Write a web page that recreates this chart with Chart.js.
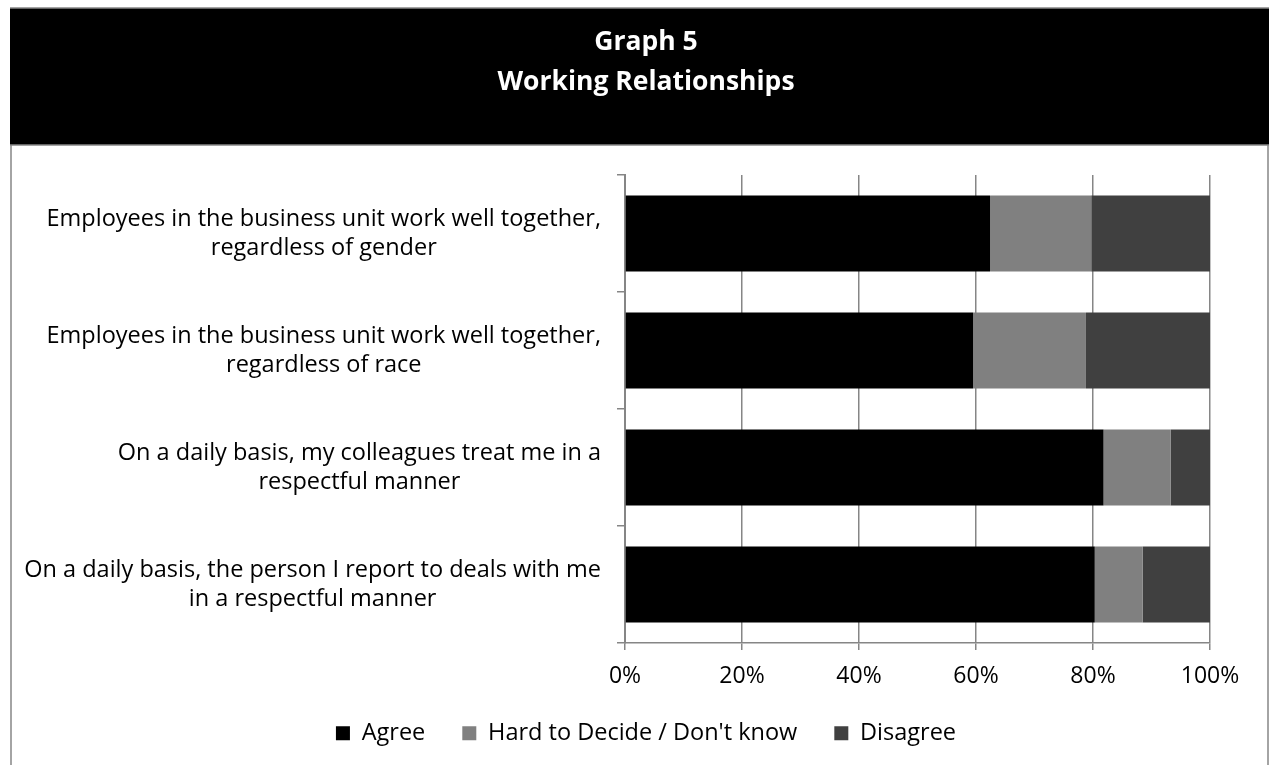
<!DOCTYPE html>
<html>
<head>
<meta charset="utf-8">
<script src="https://cdn.jsdelivr.net/npm/chart.js@4/dist/chart.umd.min.js"></script>
<style>
  html, body { margin: 0; padding: 0; background: #fff; }
  #wrap { width: 1269px; height: 765px; position: relative; }
</style>
</head>
<body>
<div id="wrap"><canvas id="c" width="1269" height="765"></canvas></div>
<script>
const titleLines = ['Graph 5', 'Working Relationships'];
const categories = [
  ['Employees in the business unit work well together,', 'regardless of gender'],
  ['Employees in the business unit work well together,', 'regardless of race'],
  ['On a daily basis, my colleagues treat me in a', 'respectful manner'],
  ['On a daily basis, the person I report to deals with me', 'in a respectful manner']
];
const seriesNames = ['Agree', 'Hard to Decide / Don\'t know', 'Disagree'];
const agree = [62.4, 59.5, 81.8, 80.3];
const hardToDecide = [17.3, 19.3, 11.5, 8.2];
const disagree = [20.3, 21.2, 6.7, 11.5];
const xTickLabels = ['0%', '20%', '40%', '60%', '80%', '100%'];

const FONT = '"Open Sans", "DejaVu Sans", sans-serif';
const GRID = '#868686';

const frame = {
  id: 'frame',
  beforeDraw(chart) {
    const ctx = chart.ctx;
    ctx.save();
    ctx.fillStyle = '#fff';
    ctx.fillRect(0, 0, chart.width, chart.height);
    ctx.fillStyle = '#000';
    ctx.fillRect(10, 8, chart.width - 10, 137);
    ctx.strokeStyle = GRID;
    ctx.lineWidth = 1.5;
    ctx.beginPath();
    ctx.moveTo(10, 8); ctx.lineTo(chart.width, 8);
    ctx.moveTo(10, 145); ctx.lineTo(chart.width, 145);
    ctx.moveTo(11, 145); ctx.lineTo(11, chart.height);
    ctx.moveTo(1268, 145); ctx.lineTo(1268, chart.height);
    ctx.stroke();
    ctx.restore();
  },
  afterDraw(chart) {
    const ctx = chart.ctx;
    const y = chart.scales.y;
    ctx.save();
    ctx.font = '23.5px ' + FONT;
    ctx.fillStyle = '#000';
    ctx.textAlign = 'center';
    ctx.textBaseline = 'middle';
    const right = y.right - 24;
    categories.forEach((lines, i) => {
      const cy = y.getPixelForValue(i);
      const maxW = Math.max(...lines.map(l => ctx.measureText(l).width));
      const cx = right - maxW / 2;
      const pitch = 29;
      const start = cy - (lines.length - 1) * pitch / 2;
      lines.forEach((l, k) => ctx.fillText(l, cx, start + k * pitch));
    });
    ctx.restore();
  }
};

new Chart(document.getElementById('c'), {
  type: 'bar',
  data: {
    labels: categories,
    datasets: [
      { label: seriesNames[0], data: agree, backgroundColor: '#000000' },
      { label: seriesNames[1], data: hardToDecide, backgroundColor: '#808080' },
      { label: seriesNames[2], data: disagree, backgroundColor: '#404040' }
    ]
  },
  options: {
    indexAxis: 'y',
    responsive: false,
    animation: false,
    devicePixelRatio: 1,
    layout: { padding: { left: 82, right: 59, top: 0, bottom: 10 } },
    datasets: { bar: { barPercentage: 0.65, categoryPercentage: 1.0, borderWidth: 0 } },
    scales: {
      x: {
        stacked: true,
        min: 0, max: 100,
        ticks: {
          stepSize: 20,
          maxRotation: 0,
          padding: 13,
          color: '#000',
          font: { family: FONT, size: 23 },
          callback: (v, i) => xTickLabels[i]
        },
        grid: { color: GRID, lineWidth: 1.5, tickLength: 7, drawTicks: true },
        border: { color: GRID, width: 1.5 },
        afterFit(s) { s.height = 41.5; }
      },
      y: {
        stacked: true,
        ticks: { display: false },
        grid: { drawOnChartArea: false, drawTicks: true, tickLength: 8, color: GRID, lineWidth: 1.5, offset: true },
        border: { color: GRID, width: 2 },
        afterFit(s) { s.width = 625 - 82; }
      }
    },
    plugins: {
      title: {
        display: true,
        text: titleLines,
        color: '#fff',
        font: { family: FONT, size: 26.5, weight: 'bold', lineHeight: 40 / 26.5 },
        padding: { top: 22, bottom: 73 }
      },
      legend: {
        position: 'bottom',
        labels: {
          color: '#000',
          font: { family: FONT, size: 23.5 },
          boxWidth: 14,
          boxHeight: 14,
          padding: 37
        }
      },
      tooltip: { enabled: false }
    }
  },
  plugins: [frame]
});
</script>
</body>
</html>
